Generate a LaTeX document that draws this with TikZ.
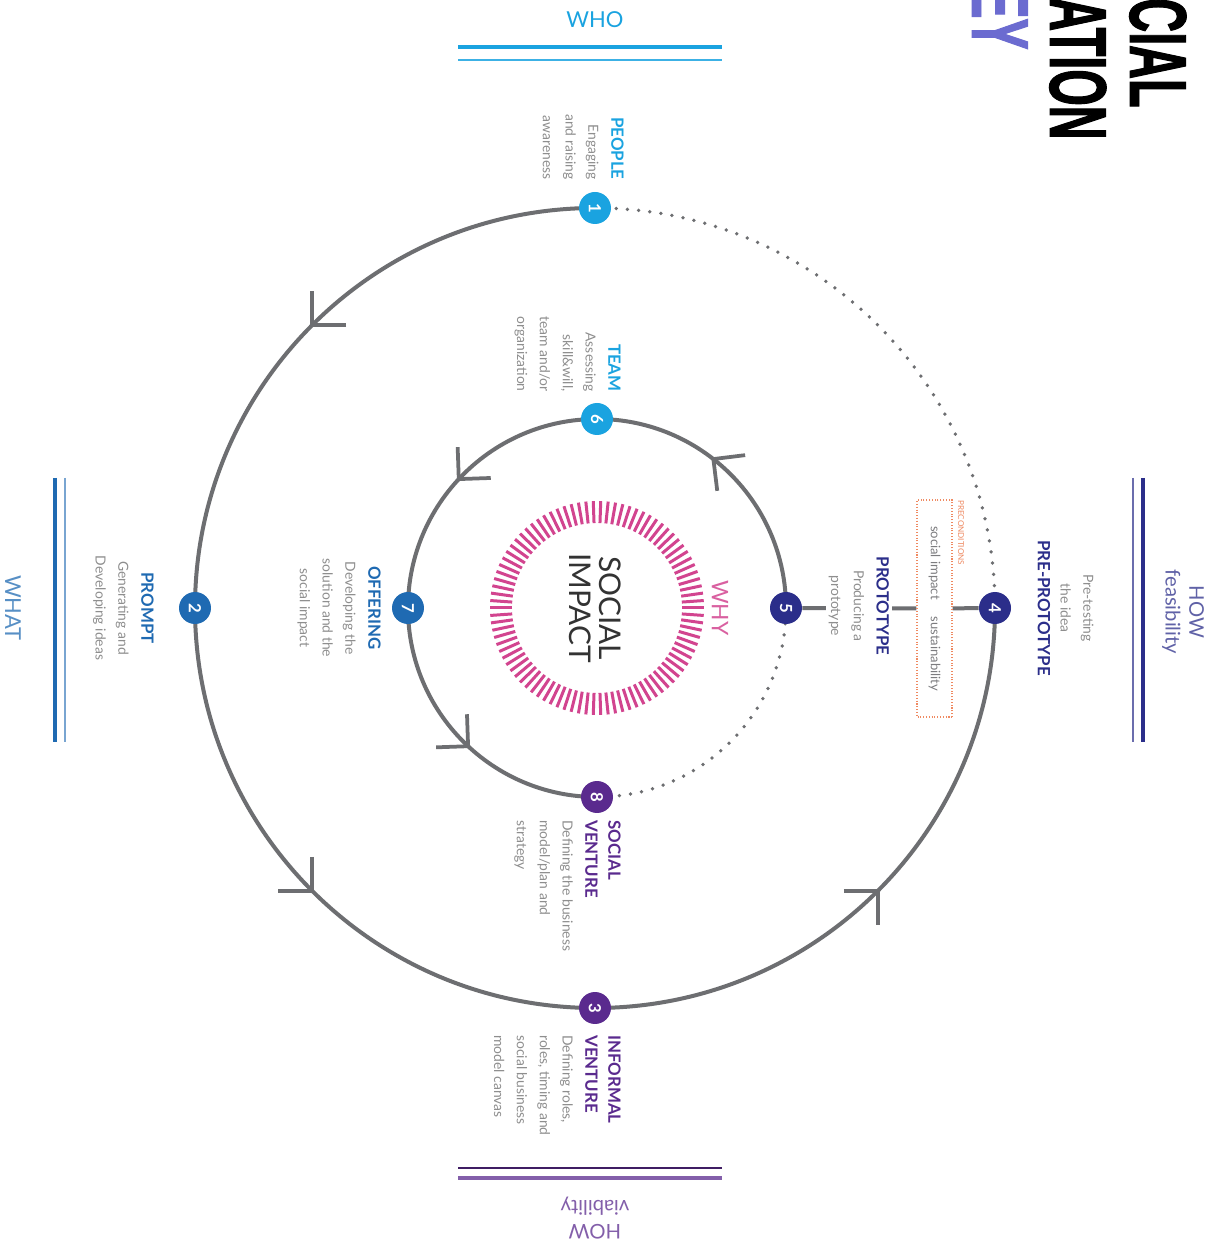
\documentclass[tikz,border=0pt]{standalone}
\usepackage{fontspec}
\setmainfont{Lato}
\newfontfamily\titlefont[FakeStretch=0.58, FakeBold=1.2]{Liberation Sans}
\usetikzlibrary{calc,backgrounds}
\definecolor{cLB}{HTML}{1AA3E0}
\definecolor{cB}{HTML}{1F6AB2}
\definecolor{cN}{HTML}{2B2E8A}
\definecolor{cP}{HTML}{5A2A8E}
\definecolor{cG}{HTML}{6D6E71}
\definecolor{cT}{HTML}{8E8E8E}
\definecolor{cPink}{HTML}{D2448F}
\definecolor{cOr}{HTML}{EF8A62}
\definecolor{cTitleB}{HTML}{6B6BD0}
\newcommand{\hd}[2]{{\color{#1}\bfseries\fontsize{9.6}{13}\selectfont #2}}
\tikzset{
  rt/.style={rotate=-90, inner sep=0pt},
  desc/.style={rt, text=cT, font=\fontsize{7.9}{13}\selectfont},
  num/.style={circle, fill=#1, minimum size=0.64cm, inner sep=0pt, text=white,
              font=\fontsize{9.5}{9.5}\selectfont\bfseries, rotate=-90},
  gline/.style={draw=cG, line width=0.08cm},
  dotline/.style={draw=cG, line width=0.075cm, dash pattern=on 0pt off 6.4pt, line cap=round},
  chev/.style={draw=cG, line width=0.075cm},
  thickbar/.style={line width=0.08cm},
  thinbar/.style={line width=0.05cm},
  titletext/.style={rt, anchor=base east, font=\titlefont\bfseries\fontsize{46}{46}\selectfont}
}
\begin{document}
\begin{tikzpicture}[x=0.02cm, y=0.02cm]
\useasboundingbox (0,0) rectangle (1213,1249);
\clip (0,0) rectangle (1213,1249);

\coordinate (C) at (595,641);
\coordinate (Ci) at (597,641);

% title (cut off at the top)
\node[titletext, text=black] (t1) at (1130,1141) {CIAL};
\node[titletext, text=black] (t2) at (1050,1109) {ATION};
\node[titletext, text=cTitleB] (t3) at (972,1199) {EY};

% numbered nodes
\node[num=cLB] (n1) at ($(C)+(90:400)$) {1};
\node[num=cB]  (n2) at ($(C)+(180:400)$) {2};
\node[num=cP]  (n3) at ($(C)+(270:400)$) {3};
\node[num=cN]  (n4) at ($(C)+(0:400)$) {4};
\node[num=cN]  (n5) at ($(Ci)+(0:189)$) {5};
\node[num=cLB] (n6) at ($(Ci)+(90:189)$) {6};
\node[num=cB]  (n7) at ($(Ci)+(180:189)$) {7};
\node[num=cP]  (n8) at ($(Ci)+(270:189)$) {8};

% labels
\node[desc, align=right, anchor=north east] (tPeople) at (624,1069)
  {\hd{cLB}{PEOPLE}\\Engaging\\and raising\\awareness};
\node[desc, align=right, anchor=north east] (tTeam) at (621,857)
  {\hd{cLB}{TEAM}\\Assessing\\skill\&will,\\team and/or\\organization};
\node[desc, align=center, anchor=north] (tPrompt) at (154,641)
  {\hd{cB}{PROMPT}\\Generating and\\Developing ideas};
\node[desc, align=center, anchor=north] (tOffer) at (381,641)
  {\hd{cB}{OFFERING}\\Developing the\\solution and the\\social impact};
\node[desc, align=left, anchor=north west] (tSocV) at (621,429)
  {\hd{cP}{SOCIAL}\\\hd{cP}{VENTURE}\\Defining the business\\model/plan and\\strategy};
\node[desc, align=left, anchor=north west] (tInfV) at (621,214)
  {\hd{cP}{INFORMAL}\\\hd{cP}{VENTURE}\\Defining roles,\\roles, timing and\\social business\\model canvas};
\node[desc, align=center, anchor=north] (tPre) at (1094,641)
  {Pre-testing\\the idea\\\hd{cN}{PRE-PROTOTYPE}};
\node[desc, align=center, anchor=north, fill=white, inner sep=1.5pt] (tProto) at (892,643)
  {\hd{cN}{PROTOTYPE}\\Producing a\\prototype};

% preconditions box
\node[rt, draw=cOr, densely dotted, line width=0.6pt, minimum width=4.34cm, minimum height=0.7cm,
      fill=white, text=cG!90, font=\fontsize{7.4}{8}\selectfont] (box) at (934.5,640.5)
  {social impact\hspace{1.3em}sustainability};
\node[rt, anchor=west, text=cOr, font=\fontsize{4.6}{5}\selectfont] (pre) at (961,749) {PRECONDITIONS};

% side labels
\node[text=cLB, font=\fontsize{12.5}{12.5}\selectfont] (who) at (595,1229) {WHO};
\draw[cLB, thickbar] (458,1202) -- (722,1202);
\draw[cLB!85, thinbar] (458,1189) -- (722,1189);

\node[rt, text=cB!75, font=\fontsize{12.5}{12.5}\selectfont] (what) at (13,641) {WHAT};
\draw[cB, thickbar] (55,771) -- (55,507);
\draw[cB!60, thinbar] (65,771) -- (65,507);

\node[rt, align=center, text=cN!75, font=\fontsize{11.5}{13.5}\selectfont] (howf) at (1183,637) {HOW\\feasibility};
\draw[cN!70, thinbar] (1133,771) -- (1133,507);
\draw[cN, thickbar] (1143,771) -- (1143,507);

\node[rotate=180, inner sep=0pt, align=center, text=cP!75, font=\fontsize{11.5}{13.5}\selectfont] (howv) at (595,31) {HOW\\viability};
\draw[cP!70!black, thinbar] (458,81) -- (722,81);
\draw[cP!75, thickbar] (458,71) -- (722,71);

% centre
\node[rt, text=cPink!85, font=\fontsize{13}{13}\selectfont] (why) at (720,641) {WHY};
\node[rt, align=center, text=black!80, font=\fontsize{17}{17}\selectfont] (impact) at (595,641) {SOCIAL\\IMPACT};
\foreach \a in {0,4,...,356}
  \draw[cPink, line width=0.06cm] ($(Ci)+(\a:85)$) -- ($(Ci)+(\a:107)$);

% chevrons
\foreach \t in {135,225,315}
  \draw[chev] ($(C)+(\t:400)$) +(\t+225:34) -- ($(C)+(\t:400)$) -- +(\t+315:34);
\foreach \t in {52,137,227}
  \draw[chev] ($(Ci)+(\t:189)$) +(\t+225:32) -- ($(Ci)+(\t:189)$) -- +(\t+315:32);

% connectors
\begin{scope}[on background layer]
  \fill[white] (0,0) rectangle (1213,1249);
  \draw[gline] (n1.center) arc[start angle=90, end angle=360, radius=400];
  \draw[dotline] (n4.center) arc[start angle=0, end angle=90, radius=400];
  \draw[gline] (n5.center) arc[start angle=0, end angle=270, radius=189];
  \draw[dotline] (n8.center) arc[start angle=270, end angle=360, radius=189];
  \draw[gline] (n5) -- (box);
  \draw[gline] (box) -- (n4);
\end{scope}
\end{tikzpicture}
\end{document}
